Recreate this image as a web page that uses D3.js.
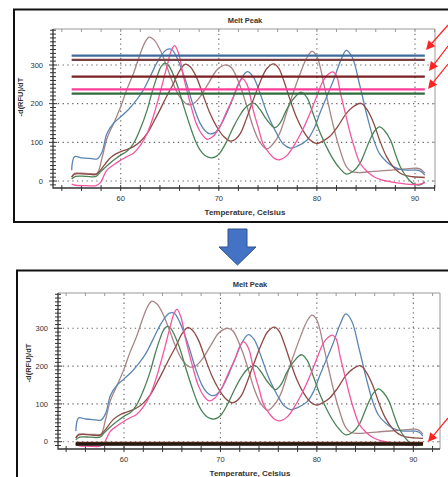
<!DOCTYPE html>
<html>
<head>
<meta charset="utf-8">
<script src="https://cdn.jsdelivr.net/npm/d3@7"></script>
<style>
  html, body { margin: 0; padding: 0; background: #fff; }
  svg { display: block; }
  text { font-family: "Liberation Sans", Arial, sans-serif; fill: #333; }
</style>
</head>
<body>
<svg id="chart" width="448" height="477"></svg>
<script>

// ---- data ----

var xTicks = [ 60, 70, 80, 90 ];
var yTicks = [ 0, 100, 200, 300 ];

var blueCurve = [ [55,28],[55.3,63],[56,60],[57,58],[57.6,57],[58.1,75],[58.6,123],[59.3,150],[60,166],[60.8,185],[61.6,209],[62.3,235],[63,270],[63.9,315],[64.7,340],[65.2,340],[65.8,315],[66.7,253],[67.4,195],[68.1,149],[68.6,130],[69.1,122],[69.6,125],[70.1,140],[70.8,175],[71.5,218],[72.3,265],[72.9,283],[73.5,270],[74.2,227],[75,170],[75.9,123],[76.6,95],[77.3,85],[78,90],[79,106],[79.7,135],[80.3,175],[81,218],[81.7,261],[82.4,310],[83,338],[83.6,320],[84.4,244],[85.1,170],[85.8,106],[86.4,70],[87.1,50],[87.8,37],[88.5,30],[89.3,28],[90.2,28],[90.6,25],[91,15] ];

var taupeCurve = [ [55,10],[55.3,20],[56,20],[57,19],[57.6,20],[58.1,60],[58.6,110],[59.3,150],[60,192],[60.6,235],[61.3,278],[62,330],[62.5,360],[62.9,372],[63.4,365],[64,340],[64.7,296],[65.3,255],[66,218],[66.8,198],[67.4,200],[68.1,218],[69,255],[69.8,287],[70.4,298],[70.8,300],[71.3,293],[72.2,244],[72.9,190],[73.5,140],[74.2,100],[74.9,83],[75.5,95],[76.2,123],[77.2,200],[78.3,278],[79,320],[79.5,335],[80,322],[80.7,252],[81.2,195],[81.7,140],[82.3,85],[83,37],[83.5,25],[84.1,22],[85.5,24],[86.8,27],[88.5,30],[90.2,33],[90.6,30],[91,20] ];

var pinkCurve = [ [55,-8],[55.4,-11],[56.5,-12],[57.5,-12],[57.9,-5],[58.6,28],[59.3,42],[60,54],[60.7,64],[61.3,72],[62,92],[62.7,123],[63.3,165],[64,227],[64.7,295],[65.2,340],[65.5,350],[65.9,330],[66.4,270],[67,210],[67.7,149],[68.3,120],[68.8,108],[69.4,115],[70.1,140],[70.8,180],[71.5,218],[72,252],[72.4,265],[72.9,248],[73.5,184],[74,140],[74.5,97],[75.2,70],[75.7,58],[76.2,55],[76.9,65],[77.6,89],[78.5,130],[79.3,175],[80,220],[80.5,252],[81,272],[81.6,282],[82,272],[82.4,227],[82.9,175],[83.4,123],[83.9,80],[84.4,46],[85.1,25],[85.8,11],[86.6,3],[87.5,-2],[88.6,-6],[89.8,-9],[90.5,-8],[91,-4] ];

var greenCurve = [ [55,5],[55.4,12],[56.5,12],[57.5,12],[58,25],[58.9,46],[59.5,58],[60,67],[60.7,78],[61.3,97],[62,135],[62.7,184],[63.2,230],[63.7,270],[64.1,295],[64.5,305],[64.9,298],[65.7,253],[66.4,195],[67.1,140],[67.6,105],[68.1,80],[68.6,66],[69.2,60],[69.7,63],[70.1,72],[70.8,102],[71.5,140],[72.2,172],[72.8,192],[73.6,201],[74.2,185],[74.9,158],[75.7,138],[76.3,152],[76.9,184],[77.6,212],[78.4,230],[79,215],[79.6,175],[80.4,120],[81.3,72],[82.1,40],[83,18],[83.7,25],[84.4,46],[84.9,75],[85.4,106],[85.9,130],[86.4,140],[86.9,130],[87.5,106],[88,70],[88.5,37],[89.1,12],[89.8,-6],[90.5,-10],[91,-2] ];

var darkRedCurve = [ [55,10],[55.3,18],[56.5,18],[57.5,17],[58,30],[58.9,59],[59.5,70],[60,76],[60.7,82],[61.3,89],[62,102],[62.7,123],[63.3,150],[64,184],[64.7,220],[65.4,253],[66,285],[66.6,302],[67.1,295],[67.7,270],[68.4,222],[69.1,175],[69.8,140],[70.5,115],[71.2,103],[71.7,108],[72.2,123],[72.8,160],[73.5,209],[74.2,255],[74.9,291],[75.6,303],[76.1,292],[76.6,261],[77.2,215],[77.9,166],[78.6,130],[79.3,106],[80,97],[80.6,103],[81.3,115],[82.1,140],[83,175],[83.7,192],[84.5,201],[85.1,185],[85.8,149],[86.4,105],[87.1,63],[87.8,36],[88.5,20],[89.2,13],[89.8,11],[91,9] ];

var curveNames = [ 'taupe', 'blue', 'darkRed', 'green', 'pink' ];
var curveValues = [ taupeCurve, blueCurve, darkRedCurve, greenCurve, pinkCurve ];
var curveColors = [ '#a88486', '#5b86b4', '#8e4a44', '#4b8358', '#f4559f' ];

// flat reference lines (top panel) and the collapsed baseline (bottom panel)
var levelRange = [ 55, 91 ];
var topLevels = [ 324, 313, 270, 237, 226 ];
var topLevelColors = [ '#3f6b9c', '#7a4044', '#7a1f22', '#ff3f9a', '#2f6b3c' ];
var bottomLevels = [ -2.5, -4.5, -6.5, -8 ];
var bottomLevelColors = [ '#6e2a1c', '#2a2210', '#1c1a10', '#2a1a14' ];

// ---- drawing ----

var svg = d3.select( '#chart' );

draw_frame( 14, 9.5, 440, 212.5 );
draw_frame( 17, 270.5, 440, 220 );

draw_panel({
    left: 53, right: 435, top: 29, bottom: 188,
    x0: 120.7, x1: 415, y0: 181, y1: 65,
    titleY: 22.5, tickLabelY: 200.5, xTitleY: 214.5, yTitleX: 23, yLabelX: 43, yTitleAt: 217,
    levels: topLevels, levelColors: topLevelColors, levelWidth: 2.2
});

draw_panel({
    left: 58, right: 440, top: 293, bottom: 449,
    x0: 124, x1: 413.3, y0: 441.7, y1: 328.3,
    titleY: 287, tickLabelY: 461.5, xTitleY: 475.5, yTitleX: 31, yLabelX: 48, yTitleAt: 208,
    levels: bottomLevels, levelColors: bottomLevelColors, levelWidth: 2
});

draw_down_arrow();

draw_red_arrow( [ 448, 25 ], [ 426, 50 ] );
draw_red_arrow( [ 448, 46 ], [ 429, 71 ] );
draw_red_arrow( [ 448, 64 ], [ 428, 89 ] );
draw_red_arrow( [ 448, 418 ], [ 428, 442 ] );

function draw_frame ( x, y, w, h ) {

    svg.append( 'rect' )
        .attr( 'x', x )
        .attr( 'y', y )
        .attr( 'width', w )
        .attr( 'height', h )
        .attr( 'fill', 'none' )
        .attr( 'stroke', '#111' )
        .attr( 'stroke-width', 2 );

}

function draw_panel ( p ) {

    var g = svg.append( 'g' );

    var x = d3.scaleLinear().domain( [ 60, 90 ] ).range( [ p.x0, p.x1 ] );
    var y = d3.scaleLinear().domain( [ 0, 300 ] ).range( [ p.y0, p.y1 ] );

    var xMin = x.invert( p.left ), xMax = x.invert( p.right );
    var yMin = y.invert( p.bottom ), yMax = y.invert( p.top );

    // dotted grid
    g.selectAll( '.vgrid' )
        .data( xTicks )
        .enter().append( 'line' )
        .attr( 'x1', function ( d ) { return x( d ); } )
        .attr( 'x2', function ( d ) { return x( d ); } )
        .attr( 'y1', p.top )
        .attr( 'y2', p.bottom )
        .attr( 'stroke', '#666' )
        .attr( 'stroke-width', 1.1 )
        .attr( 'stroke-dasharray', '1.3,3.5' );

    g.selectAll( '.hgrid' )
        .data( yTicks )
        .enter().append( 'line' )
        .attr( 'x1', p.left )
        .attr( 'x2', p.right )
        .attr( 'y1', function ( d ) { return y( d ); } )
        .attr( 'y2', function ( d ) { return y( d ); } )
        .attr( 'stroke', '#666' )
        .attr( 'stroke-width', 1.1 )
        .attr( 'stroke-dasharray', '1.3,3.5' );

    // plot box: light top/right, dark left/bottom
    g.append( 'path' )
        .attr( 'd', 'M' + p.left + ',' + p.top + 'H' + p.right + 'V' + p.bottom )
        .attr( 'fill', 'none' )
        .attr( 'stroke', '#999' )
        .attr( 'stroke-width', 1 );

    g.append( 'path' )
        .attr( 'd', 'M' + p.left + ',' + p.top + 'V' + p.bottom + 'H' + p.right )
        .attr( 'fill', 'none' )
        .attr( 'stroke', '#333' )
        .attr( 'stroke-width', 1.3 );

    // minor ticks crossing the axes
    var xMinor = d3.range( Math.ceil( xMin / 2 ) * 2, xMax, 2 );
    g.selectAll( '.xminor' )
        .data( xMinor )
        .enter().append( 'line' )
        .attr( 'x1', function ( d ) { return x( d ); } )
        .attr( 'x2', function ( d ) { return x( d ); } )
        .attr( 'y1', p.bottom - 3 )
        .attr( 'y2', p.bottom + 3 )
        .attr( 'stroke', '#333' )
        .attr( 'stroke-width', 1 );

    g.selectAll( '.xtop' )
        .data( xMinor )
        .enter().append( 'line' )
        .attr( 'x1', function ( d ) { return x( d ); } )
        .attr( 'x2', function ( d ) { return x( d ); } )
        .attr( 'y1', p.top )
        .attr( 'y2', p.top + 3 )
        .attr( 'stroke', '#999' )
        .attr( 'stroke-width', 1 );

    var yMinor = d3.range( Math.ceil( yMin / 10 ) * 10, yMax, 10 );
    g.selectAll( '.yminor' )
        .data( yMinor )
        .enter().append( 'line' )
        .attr( 'x1', function ( d ) { return p.left - ( d % 100 === 0 ? 4 : 3 ); } )
        .attr( 'x2', function ( d ) { return p.left + ( d % 100 === 0 ? 4 : 3 ); } )
        .attr( 'y1', function ( d ) { return y( d ); } )
        .attr( 'y2', function ( d ) { return y( d ); } )
        .attr( 'stroke', '#333' )
        .attr( 'stroke-width', 1 );

    g.selectAll( '.yright' )
        .data( yTicks )
        .enter().append( 'line' )
        .attr( 'x1', p.right - 3 )
        .attr( 'x2', p.right )
        .attr( 'y1', function ( d ) { return y( d ); } )
        .attr( 'y2', function ( d ) { return y( d ); } )
        .attr( 'stroke', '#999' )
        .attr( 'stroke-width', 1 );

    // tick labels
    g.selectAll( '.xlabel' )
        .data( xTicks )
        .enter().append( 'text' )
        .attr( 'x', function ( d ) { return x( d ); } )
        .attr( 'y', p.tickLabelY )
        .attr( 'text-anchor', 'middle' )
        .attr( 'font-size', '7.5px' )
        .text( function ( d ) { return d; } );

    g.selectAll( '.ylabel' )
        .data( yTicks )
        .enter().append( 'text' )
        .attr( 'x', p.yLabelX )
        .attr( 'y', function ( d ) { return y( d ) + 2.6; } )
        .attr( 'text-anchor', 'end' )
        .attr( 'font-size', '7.5px' )
        .text( function ( d ) { return d; } );

    // titles
    g.append( 'text' )
        .attr( 'x', ( p.left + p.right ) / 2 + 1 )
        .attr( 'y', p.titleY )
        .attr( 'text-anchor', 'middle' )
        .attr( 'font-size', '7.5px' )
        .attr( 'font-weight', 'bold' )
        .text( 'Melt Peak' );

    g.append( 'text' )
        .attr( 'x', ( p.left + p.right ) / 2 + 1 )
        .attr( 'y', p.xTitleY )
        .attr( 'text-anchor', 'middle' )
        .attr( 'font-size', '8px' )
        .attr( 'font-weight', 'bold' )
        .text( 'Temperature, Celsius' );

    g.append( 'text' )
        .attr( 'transform', 'translate(' + p.yTitleX + ',' + y( p.yTitleAt ) + ') rotate(-90)' )
        .attr( 'text-anchor', 'middle' )
        .attr( 'font-size', '7.5px' )
        .attr( 'font-weight', 'bold' )
        .text( '-d(RFU)/dT' );

    // melt curves
    var line = d3.line()
        .x( function ( d ) { return x( d[ 0 ] ); } )
        .y( function ( d ) { return y( d[ 1 ] ); } )
        .curve( d3.curveCatmullRom.alpha( 0.5 ) );

    g.selectAll( '.curve' )
        .data( curveValues )
        .enter().append( 'path' )
        .attr( 'd', line )
        .attr( 'fill', 'none' )
        .attr( 'stroke', function ( d, i ) { return curveColors[ i ]; } )
        .attr( 'stroke-width', 1.3 );

    // flat lines
    g.selectAll( '.level' )
        .data( p.levels )
        .enter().append( 'line' )
        .attr( 'x1', x( levelRange[ 0 ] ) )
        .attr( 'x2', x( levelRange[ 1 ] ) )
        .attr( 'y1', function ( d ) { return y( d ); } )
        .attr( 'y2', function ( d ) { return y( d ); } )
        .attr( 'stroke', function ( d, i ) { return p.levelColors[ i ]; } )
        .attr( 'stroke-width', p.levelWidth );

}

function draw_down_arrow () {

    var pts = [ [ 228, 229 ], [ 247, 229 ], [ 247, 247 ], [ 256, 247 ], [ 237.5, 265 ], [ 219, 247 ], [ 228, 247 ] ];

    svg.append( 'path' )
        .attr( 'd', d3.line()( pts ) + 'Z' )
        .attr( 'fill', '#4472c4' )
        .attr( 'stroke', '#2f528f' )
        .attr( 'stroke-width', 1 );

}

function draw_red_arrow ( from, to ) {

    var dx = to[ 0 ] - from[ 0 ], dy = to[ 1 ] - from[ 1 ];
    var len = Math.sqrt( dx * dx + dy * dy );
    var ux = dx / len, uy = dy / len;
    var head = 9, half = 4.5;
    var bx = to[ 0 ] - ux * head, by = to[ 1 ] - uy * head;

    svg.append( 'line' )
        .attr( 'x1', from[ 0 ] )
        .attr( 'y1', from[ 1 ] )
        .attr( 'x2', bx )
        .attr( 'y2', by )
        .attr( 'stroke', '#f22' )
        .attr( 'stroke-width', 1.2 );

    svg.append( 'path' )
        .attr( 'd', 'M' + to[ 0 ] + ',' + to[ 1 ] +
            'L' + ( bx - uy * half ) + ',' + ( by + ux * half ) +
            'L' + ( bx + uy * half ) + ',' + ( by - ux * half ) + 'Z' )
        .attr( 'fill', '#f22' );

}

</script>
</body>
</html>
